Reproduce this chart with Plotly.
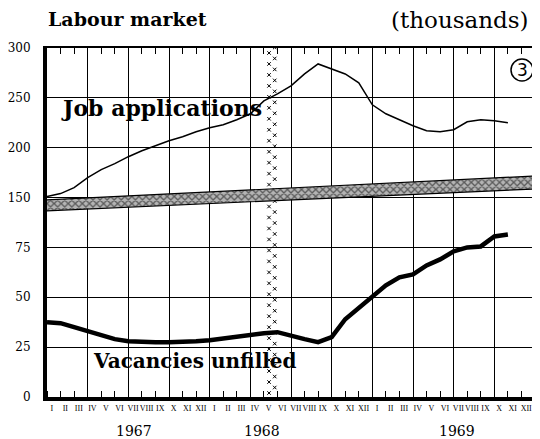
import numpy as np
import plotly.graph_objects as go

# ---------------- data ----------------
month_labels = ["I", "II", "III", "IV", "V", "VI", "VII", "VIII", "IX", "X", "XI", "XII"] * 3
years = ["1967", "1968", "1969"]

# Job applications (thousands), Jan 1967 .. Nov 1969
job_applications = [151, 154, 160, 170, 178, 184, 191, 197, 202, 207, 211, 216,
                    220, 223, 228, 234, 247, 254, 262, 274, 284, 279, 274, 265,
                    243, 234, 228, 222, 217, 216, 218, 226, 228, 227, 225]
# Vacancies unfilled (thousands), Jan 1967 .. Nov 1969
vacancies = [37.5, 37, 35, 33, 31, 29, 28, 27.5, 27.5, 27.5, 27.5, 28,
             28.5, 29.5, 30.5, 31.5, 32, 32.5, 30.5, 29, 27.5, 30, 39, 44.5,
             50.5, 56, 60, 61.5, 66, 69, 73, 75, 75.5, 80.5, 81.5]

upper_ticks = [150, 200, 250, 300]
lower_ticks = [0, 25, 50, 75]
event_month = 16.6   # marked month (May/June 1968)

# ---------------- broken-axis mapping ----------------
def upper_map(v):
    return np.asarray(v, dtype=float) + 50.0

def lower_map(v):
    return np.asarray(v, dtype=float) * 2.0

# screen-pixel helpers (page body has 8px margin; plot area on screen x 47..535, y 48..397)
PX_L, PX_R, PY_T, PY_B = 47, 535, 48, 397
BODY = 8
FIG_W, FIG_H = 540 - BODY, 439 - BODY
XR = 36.0
YR = 350.0
def px2x(px):
    return (px - PX_L) / (PX_R - PX_L) * XR
def py2y(py):
    return (PY_B - py) / (PY_B - PY_T) * YR
def px2p(px):
    return (px - PX_L) / (PX_R - PX_L)
def py2p(py):
    return (PY_B - py) / (PY_B - PY_T)

months = np.arange(len(job_applications))
SERIF = "DejaVu Serif"

fig = go.Figure()

# event marker column
ys = np.arange(py2y(393), py2y(52), 11.0)
fig.add_trace(go.Scatter(x=[event_month - 0.22] * len(ys), y=ys, mode="markers",
                         marker=dict(symbol="x-thin", size=3.5, line=dict(width=1, color="black")),
                         hoverinfo="skip", showlegend=False))
fig.add_trace(go.Scatter(x=[event_month + 0.2] * len(ys), y=ys + 5.5, mode="markers",
                         marker=dict(symbol="x-thin", size=3.5, line=dict(width=1, color="black")),
                         hoverinfo="skip", showlegend=False))

# series
fig.add_trace(go.Scatter(x=months, y=upper_map(job_applications), mode="lines",
                         line=dict(color="black", width=1.5), showlegend=False))
fig.add_trace(go.Scatter(x=months, y=lower_map(vacancies), mode="lines",
                         line=dict(color="black", width=4.5), showlegend=False))

# break band
bx = [px2x(44), XR, XR, px2x(44), px2x(44)]
by = [py2y(200), py2y(176), py2y(189), py2y(211), py2y(200)]
fig.add_trace(go.Scatter(x=bx, y=by, mode="lines",
                         fill="toself", fillcolor="white",
                         fillpattern=dict(shape="x", fgcolor="black", bgcolor="#b4b4b4", size=5, solidity=0.45),
                         line=dict(color="black", width=1.2), hoverinfo="skip", showlegend=False,
                         cliponaxis=False))

# dummy traces for extra axes
fig.add_trace(go.Scatter(x=[0], y=[0], xaxis="x2", mode="markers", marker=dict(opacity=0),
                         hoverinfo="skip", showlegend=False))
fig.add_trace(go.Scatter(x=[0], y=[0], xaxis="x3", mode="markers", marker=dict(opacity=0),
                         hoverinfo="skip", showlegend=False))

tickvals = list(lower_map(lower_ticks)) + list(upper_map(upper_ticks))
ticktext = [str(t) for t in lower_ticks] + [str(t) for t in upper_ticks]

ml = PX_L - BODY
mt = PY_T - BODY
fig.update_layout(
    width=FIG_W, height=FIG_H,
    margin=dict(l=ml, r=FIG_W - ml - (PX_R - PX_L), t=mt, b=FIG_H - mt - (PY_B - PY_T), autoexpand=False),
    paper_bgcolor="white", plot_bgcolor="white",
    showlegend=False,
    xaxis=dict(range=[0, XR], tickvals=list(range(0, 36, 3)), showticklabels=False,
               ticks="", showgrid=True, gridcolor="black", gridwidth=1,
               showline=True, linecolor="black", linewidth=3.5, zeroline=False,
               layer="below traces",
               minor=dict(tickvals=list(range(36)), ticks="inside", ticklen=6,
                          tickcolor="black", tickwidth=1, showgrid=False)),
    xaxis2=dict(range=[0, XR], overlaying="x", side="bottom", anchor="y",
                tickvals=[i + 0.35 for i in range(36)], ticktext=month_labels,
                tickfont=dict(family="Liberation Serif", size=8, color="black"),
                tickangle=0, ticks="", showgrid=False, showline=False, zeroline=False,
                ticklabelstandoff=5),
    xaxis3=dict(range=[0, XR], overlaying="x", side="top", anchor="y",
                tickvals=list(range(36)), ticks="inside", ticklen=6, tickcolor="black",
                showticklabels=False, showgrid=False, showline=True, linecolor="black",
                linewidth=1.5, zeroline=False),
    yaxis=dict(range=[0, YR], tickvals=tickvals, ticktext=ticktext,
               tickfont=dict(family=SERIF, size=12, color="black"),
               ticks="", showgrid=True, gridcolor="black", gridwidth=1,
               showline=True, linecolor="black", linewidth=4, zeroline=False,
               layer="below traces", ticklabelstandoff=10),
)

ann = []
def add_text(px, py, text, size, anchor="left", family=SERIF):
    ann.append(dict(x=px2p(px), y=py2p(py), xref="paper", yref="paper", text=text,
                    xanchor=anchor, yanchor="middle", showarrow=False,
                    font=dict(family=family, size=size, color="black")))

add_text(46, 19, "<b>Labour market</b>", 19)
add_text(531, 20, "(thousands)", 23, anchor="right")
add_text(59, 108, "<b>Job applications</b>", 22)
add_text(91, 361, "<b>Vacancies unfilled</b>", 20)
for yr, px in zip(years, [134, 262, 457]):
    add_text(px, 431, yr, 14, anchor="center")
add_text(522, 70, "3", 17, anchor="center", family="DejaVu Sans")
fig.update_layout(annotations=ann)

fig.add_shape(type="circle", xref="paper", yref="paper",
              x0=px2p(511), x1=px2p(533), y0=py2p(81), y1=py2p(59),
              line=dict(color="black", width=1.5))

fig.write_html("out.html")
